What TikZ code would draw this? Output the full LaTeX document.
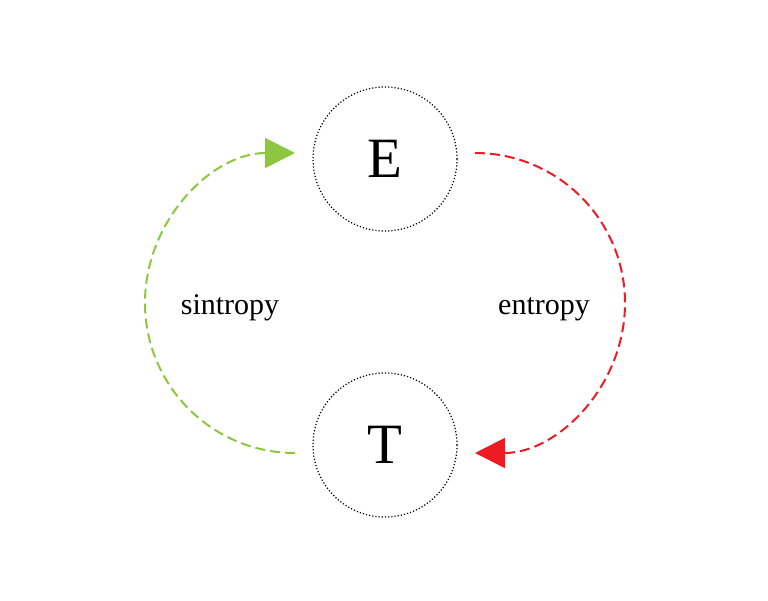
\documentclass[tikz,border=0pt]{standalone}
\usepackage{fontspec}
\setmainfont{Liberation Serif}
\usetikzlibrary{arrows.meta,calc}
\definecolor{sgreen}{RGB}{141,198,63}
\definecolor{ered}{RGB}{237,28,36}
\begin{document}
\begin{tikzpicture}[x=1pt,y=-1pt,
  state/.style={circle,draw,dotted,line width=1.2pt,minimum size=144pt,inner sep=0pt,font=\fontsize{57}{60}\selectfont},
  flow/.style={dash pattern=on 10pt off 5pt,line width=2pt},
  lbl/.style={font=\fontsize{30}{34}\selectfont,inner sep=0pt,anchor=base}]
\useasboundingbox (0,0) rectangle (768,600);
\node[state] (E) at (385,159) {E};
\node[state] (T) at (385,445) {T};
\coordinate (rs) at ($(E)+(90,-6)$);
\coordinate (gs) at ($(T)+(-90,8)$);
\draw[ered,flow,-{Triangle[length=30pt,width=30pt]}] (rs) arc[start angle=-90,end angle=90,radius=150];
\draw[sgreen,flow,-{Triangle[length=30pt,width=30pt]}] (gs) arc[start angle=90,end angle=270,radius=150];
\node[lbl] (s) at (230,314) {sintropy};
\node[lbl] (en) at (544,314) {entropy};
\end{tikzpicture}
\end{document}
